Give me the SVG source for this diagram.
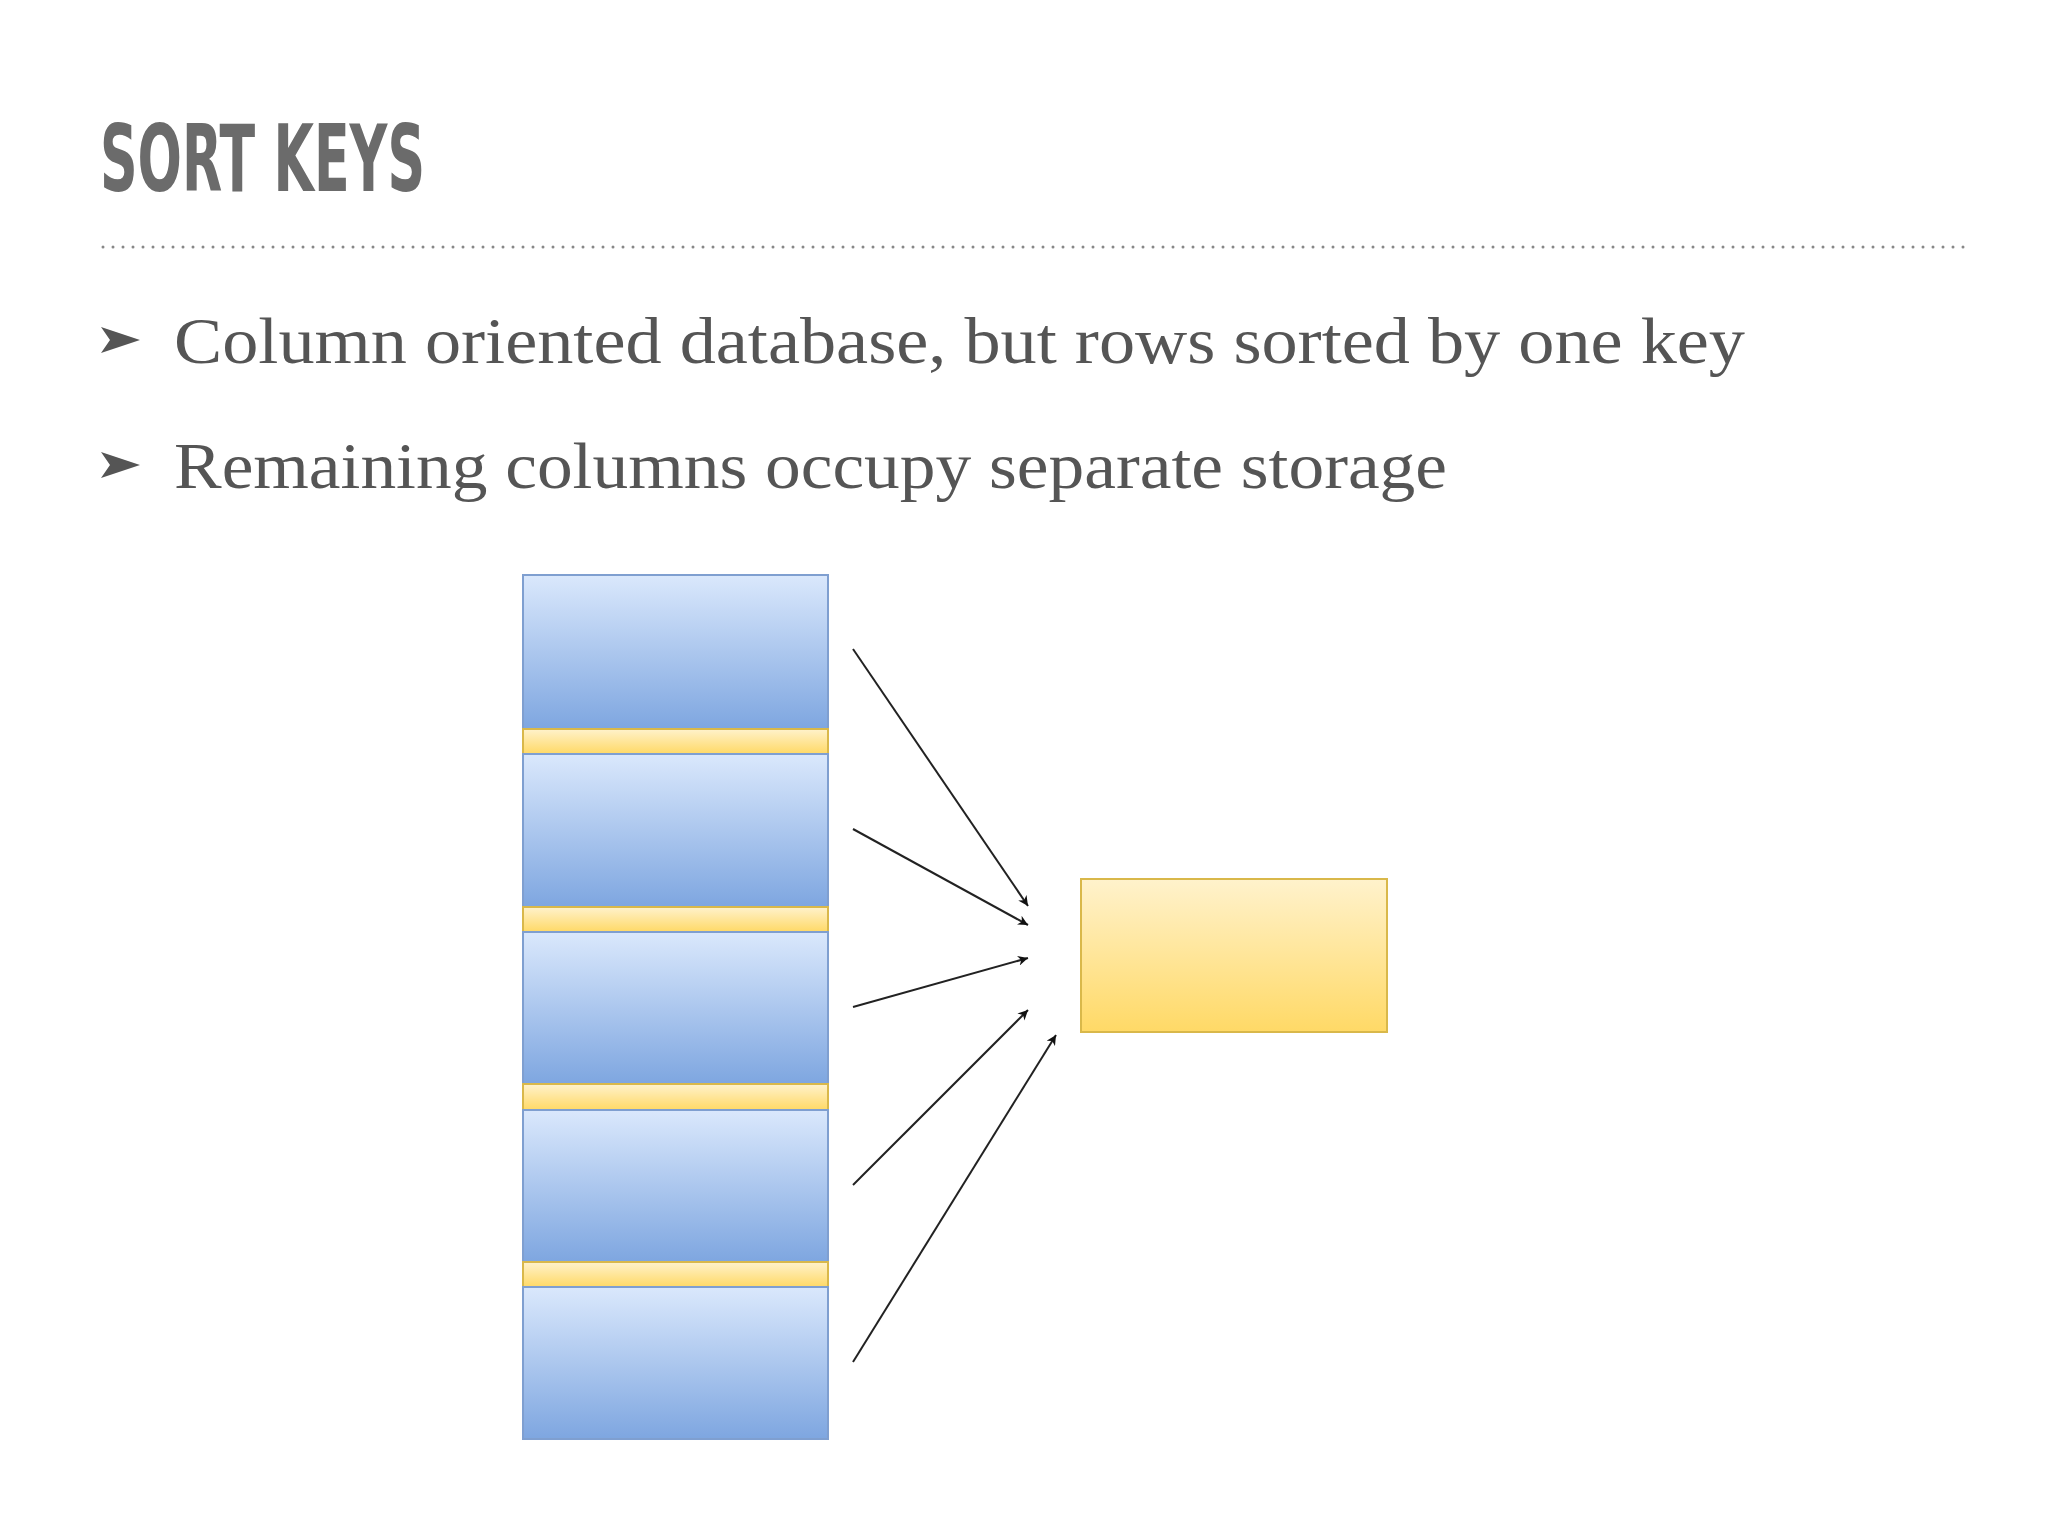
<svg xmlns="http://www.w3.org/2000/svg" width="2048" height="1536" viewBox="0 0 2048 1536">
<style>
.blue{fill:url(#gb);stroke:#7f9fd0;stroke-width:2}
.yel{fill:url(#gy);stroke:#d9b84a;stroke-width:2}
.bul{font-family:"Liberation Serif",serif;font-size:66px;fill:#555}
.con line{stroke:#222;stroke-width:2;marker-end:url(#ah)}
</style>
<defs>
<linearGradient id="gb" x1="0" y1="0" x2="0" y2="1"><stop offset="0" stop-color="#dae8fc"/><stop offset="1" stop-color="#7ea6e0"/></linearGradient>
<linearGradient id="gy" x1="0" y1="0" x2="0" y2="1"><stop offset="0" stop-color="#fff2cc"/><stop offset="1" stop-color="#ffd966"/></linearGradient>
<marker id="ah" viewBox="0 0 10 10" refX="10" refY="5" markerWidth="10" markerHeight="10" markerUnits="userSpaceOnUse" orient="auto"><path d="M0,0 L10,5 L0,10 L3,5 z" fill="#111"/></marker>
</defs>
<rect width="2048" height="1536" fill="#fff"/>
<text x="100" y="191" font-family="DejaVu Sans Condensed,sans-serif" font-weight="bold" font-size="92" fill="#6b6b6b" textLength="325" lengthAdjust="spacingAndGlyphs">SORT KEYS</text>
<line x1="103" y1="247" x2="1969" y2="247" stroke="#888" stroke-width="3" stroke-dasharray="0 10" stroke-linecap="round"/>
<path d="M101,327 L140,340 L101,353 L110,340 z" fill="#555"/>
<text class="bul" x="174" y="363" textLength="1571" lengthAdjust="spacingAndGlyphs">Column oriented database, but rows sorted by one key</text>
<path d="M101,452 L140,465 L101,478 L110,465 z" fill="#555"/>
<text class="bul" x="174" y="488" textLength="1273" lengthAdjust="spacingAndGlyphs">Remaining columns occupy separate storage</text>
<g id="column">
<rect class="blue" x="523" y="575" width="305" height="154"/>
<rect class="yel" x="523" y="729" width="305" height="25"/>
<rect class="blue" x="523" y="754" width="305" height="153"/>
<rect class="yel" x="523" y="907" width="305" height="25"/>
<rect class="blue" x="523" y="932" width="305" height="152"/>
<rect class="yel" x="523" y="1084" width="305" height="26"/>
<rect class="blue" x="523" y="1110" width="305" height="152"/>
<rect class="yel" x="523" y="1262" width="305" height="25"/>
<rect class="blue" x="523" y="1287" width="305" height="152"/>
</g>
<g id="target"><rect class="yel" x="1081" y="879" width="306" height="153"/></g>
<g class="con" id="connectors">
<line x1="853" y1="649" x2="1028" y2="906"/>
<line x1="853" y1="829" x2="1028" y2="925"/>
<line x1="853" y1="1007" x2="1028" y2="958"/>
<line x1="853" y1="1185" x2="1028" y2="1010"/>
<line x1="853" y1="1362" x2="1056" y2="1035"/>
</g>
</svg>
